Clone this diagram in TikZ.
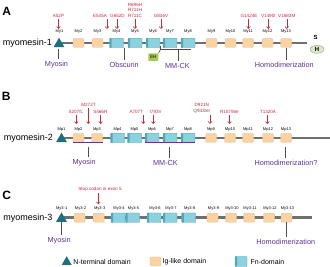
\documentclass[tikz,border=0pt]{standalone}
\usepackage{fontspec}
\setmainfont{Liberation Sans}
\usetikzlibrary{arrows.meta,shapes.geometric}
\definecolor{igfill}{HTML}{FAD3A4}
\definecolor{igdraw}{HTML}{EFBE88}
\definecolor{fnfill}{HTML}{8DD0DE}
\definecolor{fndark}{HTML}{4FA8BE}
\definecolor{nterm}{HTML}{1E6F7D}
\definecolor{mutred}{HTML}{C42A44}
\definecolor{purp}{HTML}{5C3595}
\definecolor{bb}{HTML}{6F6F6F}
\definecolor{ehgreen}{HTML}{A9C84F}
\definecolor{hgreen}{HTML}{DCE8C2}
\begin{document}
\begin{tikzpicture}[x=1pt,y=-1pt,
 ig/.style={draw=igdraw,fill=igfill,rounded corners=1pt,minimum width=11pt,minimum height=9pt,inner sep=0,line width=0.3pt},
 fn/.style={draw=fndark,fill=fnfill,rounded corners=0.6pt,minimum width=14pt,minimum height=9.5pt,inner sep=0,line width=0.3pt,
   path picture={\fill[fndark] (path picture bounding box.north west) rectangle ([xshift=2.2pt]path picture bounding box.south west);}},
 nt/.style={regular polygon,regular polygon sides=3,fill=nterm,minimum size=12.5pt,inner sep=0},
 dl/.style={font=\fontsize{4}{4.5}\selectfont,inner sep=0},
 ml/.style={font=\fontsize{4.6}{5.8}\selectfont,text=mutred,inner sep=0,align=center,anchor=south},
 mut/.style={draw=mutred,line width=0.6pt,-{Straight Barb[length=2pt,width=3.6pt]}},
 bone/.style={draw=bb,line width=2.5pt},
 pl/.style={font=\fontsize{7.3}{8}\selectfont,text=purp,inner sep=0},
 pline/.style={draw=purp,line width=0.8pt},
 tick/.style={draw=bb!70!black,line width=0.6pt},
 rowname/.style={font=\fontsize{9}{10}\selectfont,inner sep=0,anchor=east},
 panel/.style={font=\fontsize{12}{12}\selectfont\bfseries,inner sep=0},
 leg/.style={font=\fontsize{7}{8}\selectfont,inner sep=0,anchor=west}
]
\useasboundingbox[fill=white] (0,0) rectangle (330,267);

% ---------------- Panel A ----------------
\node[panel] (pA) at (6.7,11) {A};
\node[rowname] (nA) at (52,43) {myomesin-1};
\coordinate (As) at (59,43); \coordinate (Ae) at (307,43);
\draw[bone] (As) -- (Ae);
\node[nt] (A1) at (59,44) {};
\node[dl] (LA1) at (59.5,31.5) {My1};
\foreach \i/\x in {2/78.5,3/97.5,9/211.5,10/230.5,11/248,12/267.5,13/286}
  {\node[ig] (A\i) at (\x,43) {}; \node[dl] (LA\i) at (\x,31.5) {My\i};}
\foreach \i/\x in {4/116.5,5/135,6/153,7/170,8/188}
  {\node[fn] (A\i) at (\x,43) {}; \node[dl] (LA\i) at (\x,31.5) {My\i};}
% mutations A
\node[ml] (mA1) at (58.5,18) {A52P};
\node[ml] (mA2) at (100,18) {E535A};
\node[ml] (mA3) at (117.5,18) {G652D};
\node[ml] (mA4) at (135,18) {R696H\\R711H\\R711C};
\node[ml] (mA5) at (161,18) {G836V};
\node[ml] (mA6) at (249,18) {G1424E};
\node[ml] (mA7) at (268.3,18) {V1490I};
\node[ml] (mA8) at (286.8,18) {V1683M};
\draw[mut] ([yshift=-1.5pt]mA1.south) -- ++(0,9.5);
\draw[mut] ([xshift=7pt,yshift=-1.5pt]mA2.south) -- ++(0,9.5);
\draw[mut] ([xshift=-0.5pt,yshift=-1.5pt]mA3.south) -- ++(0,9.5);
\draw[mut] ([yshift=-1.5pt]mA4.south) -- ++(0,9.5);
\draw[mut] ([yshift=-1.5pt]mA5.south) -- ++(0,9.5);
\draw[mut] ([xshift=-0.5pt,yshift=-1.5pt]mA6.south) -- ++(0,9.5);
\draw[mut] ([yshift=-1.5pt]mA7.south) -- ++(0,9.5);
\draw[mut] ([yshift=-1.5pt]mA8.south) -- ++(0,9.5);
% binding partners A
\node[pl] (bA1) at (56.5,65) {Myosin};
\node[pl] (bA2) at (124.2,65) {Obscurin};
\node[pl] (bA3) at (177.5,66) {MM-CK};
\node[pl] (bA4) at (284.3,65) {Homodimerization};
\draw[tick] (58.3,49) -- ([yshift=2pt]bA1.north -| 58.3,0);
\draw[tick] (124.3,48) -- ([yshift=2pt]bA2.north -| 124.3,0);
\draw[tick] (A13.south -| 286,0) -- ([yshift=2pt]bA4.north -| 286,0);
\coordinate (ckA1) at (160.5,46.5); \coordinate (ckA2) at (160.5,49.5); \coordinate (ckA3) at (191,49.5);
\draw[pline] (ckA1) -- (ckA2) -- (ckA3);
\draw[tick] (178,49.5) -- ([yshift=2pt]bA3.north -| 178,0);
\node[fill=ehgreen,minimum width=10pt,minimum height=7.6pt,inner sep=0,rounded corners=0.8pt,
  font=\fontsize{4.6}{5}\selectfont\bfseries,text=black!75] (EH) at (153.3,57.2) {EH};
\draw[tick] (EH.north east) ++(0,0) -- (ckA2);
\node[font=\fontsize{6}{6}\selectfont\bfseries,inner sep=0] (S) at (315.7,37.7) {S};
\node[ellipse,draw=black!45,fill=hgreen,minimum width=14pt,minimum height=8pt,inner sep=0,line width=0.3pt,
  font=\fontsize{6}{6}\selectfont\bfseries] (H) at (317,49.3) {H};

% ---------------- Panel B ----------------
\node[panel] (pB) at (6.3,96.7) {B};
\node[rowname] (nB) at (53,138) {myomesin-2};
\coordinate (Bs) at (61.5,138); \coordinate (Be) at (330,138);
\draw[bone] (Bs) -- (Be);
\node[nt] (B1) at (61.5,139) {};
\node[dl] (LB1) at (61.5,129.3) {Mp1};
\foreach \i/\x in {2/78.5,3/97,9/211,10/230,11/248,12/268,13/286}
  {\node[ig] (B\i) at (\x,138) {}; \node[dl] (LB\i) at (\x,129.3) {Mp\i};}
\foreach \i/\x in {4/117.5,5/134.5,6/152,7/170,8/188}
  {\node[fn] (B\i) at (\x,138) {}; \node[dl] (LB\i) at (\x,129.3) {Mp\i};}
\node[ml] (mB1) at (75.8,113.3) {S207fL};
\node[ml] (mB2) at (88.5,106.3) {M272T};
\node[ml] (mB3) at (100.3,113.3) {S466R};
\node[ml] (mB4) at (136.3,113.3) {A707T};
\node[ml] (mB5) at (155.7,113.3) {I793V};
\node[ml] (mB6) at (201.8,113.3) {D921N\\Q933ter};
\node[ml] (mB7) at (229.5,113.3) {R1079ter};
\node[ml] (mB8) at (268,113.3) {T1320A};
\draw[mut] ([xshift=0.5pt,yshift=-1.5pt]mB1.south) -- ++(0,9.2);
\draw[mut] ([xshift=-0.2pt,yshift=-1.5pt]mB2.south) -- ++(0,16.2);
\draw[mut] ([xshift=0.4pt,yshift=-1.5pt]mB3.south) -- ++(0,9.2);
\draw[mut] ([xshift=7pt,yshift=-1.5pt]mB4.south) -- ++(0,9.2);
\draw[mut] ([xshift=-2.4pt,yshift=-1.5pt]mB5.south) -- ++(0,9.2);
\draw[mut] ([xshift=8.2pt,yshift=-1.5pt]mB6.south) -- ++(0,9.2);
\draw[mut] ([yshift=-1.5pt]mB7.south) -- ++(0,9.2);
\draw[mut] ([xshift=-0.7pt,yshift=-1.5pt]mB8.south) -- ++(0,9.2);
\node[pl] (bB1) at (84.2,163) {Myosin};
\node[pl] (bB2) at (165.5,163) {MM-CK};
\node[pl] (bB3) at (286,163) {Homodimerization?};
\draw[pline] (B2.west |- 0,142.5) -- (B3.east |- 0,142.5);
\draw[pline] (B6.west |- 0,142.5) -- (B8.east |- 0,142.5);
\draw[tick] (88.5,147) -- ([yshift=2pt]bB1.north -| 88.5,0);
\draw[tick] (169.3,147) -- ([yshift=2pt]bB2.north -| 169.3,0);
\draw[tick] (285.7,147) -- ([yshift=2pt]bB3.north -| 285.7,0);

% ---------------- Panel C ----------------
\node[panel] (pC) at (6.7,195.5) {C};
\node[rowname] (nC) at (52.7,217.7) {myomesin-3};
\coordinate (Cs) at (61.5,217.7); \coordinate (Ce) at (311.7,217.7);
\draw[bone] (Cs) -- (Ce);
\node[nt] (C1) at (61.5,218.7) {};
\node[dl] (LC1) at (61.7,208.3) {My3-1};
\foreach \i/\x in {2/79.5,3/98.7,9/212.5,10/231,11/249,12/269,13/286.5}
  {\node[ig] (C\i) at (\x,217.7) {}; \node[dl] (LC\i) at (\x+1,208.3) {My3-\i};}
\foreach \i/\x in {4/118,5/132.5,6/154,7/170,8/188.7}
  {\node[fn] (C\i) at (\x,217.7) {}; \node[dl] (LC\i) at (\x+1,208.3) {My3-\i};}
\node[ml] (mC1) at (100,191.3) {Stop codon in exon 5};
\draw[mut] ([xshift=-1.7pt,yshift=-1.5pt]mC1.south) -- ++(0,11.5);
\node[pl] (bC1) at (59.2,241) {Myosin};
\node[pl] (bC2) at (285.8,242) {Homodimerization};
\draw[tick] (61.7,222.5) -- ([yshift=2pt]bC1.north -| 61.7,0);
\draw[tick] (286.7,222.5) -- ([yshift=2pt]bC2.north -| 286.7,0);

% ---------------- Legend ----------------
\node[nt,minimum size=11.5pt] (k1) at (66.7,262) {};
\node[leg] (t1) at (73.3,261.5) {N-terminal domain};
\node[ig] (k2) at (155.5,261.5) {};
\node[leg] (t2) at (162.5,261.5) {Ig-like domain};
\node[fn,minimum width=12pt,minimum height=10pt] (k3) at (241,261.5) {};
\node[leg] (t3) at (250.5,261.5) {Fn-domain};
\end{tikzpicture}
\end{document}
